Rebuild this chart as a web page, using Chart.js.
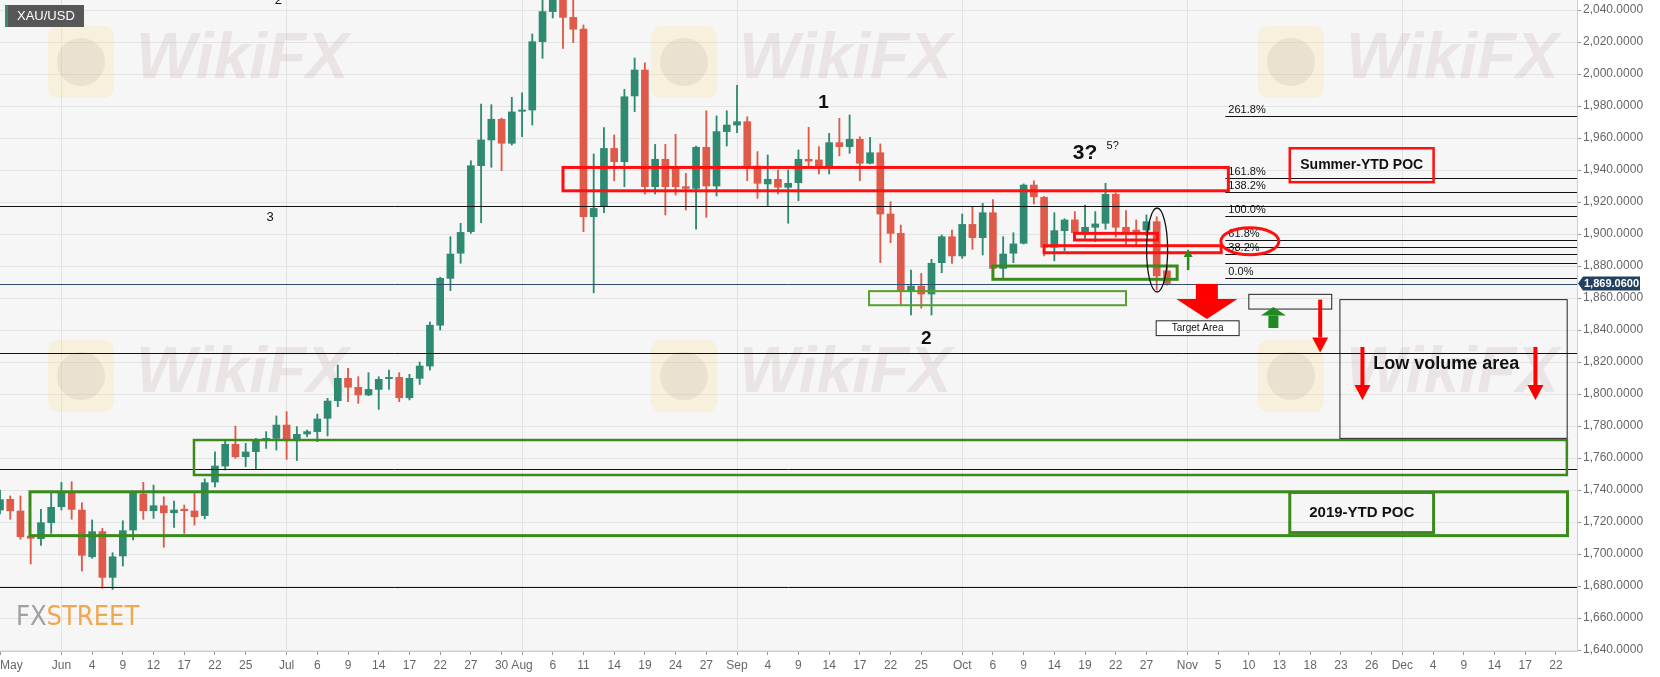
<!DOCTYPE html>
<html lang="en">
<head>
<meta charset="UTF-8">
<title>XAU/USD daily</title>
<script src="https://cdn.jsdelivr.net/npm/chart.js@4.4.1/dist/chart.umd.min.js"></script>
<style>
  html, body { margin: 0; padding: 0; background: #fff; }
  #wrap { width: 1660px; height: 677px; }
</style>
</head>
<body>
<div id="wrap"><canvas id="goldChart" width="1660" height="677"></canvas></div>
<script>
// one slot per weekday, slot 0 = 22 May 2020, last candle = 29 Oct
const opens = [1727.5,1734.2,1726.9,1711.2,1709.6,1719.6,1729.6,1738.3,1727.5,1698.3,
  1714,1685.4,1698.8,1715,1737.5,1727.1,1730.2,1725.8,1728,1726.9,
  1724,1745,1755,1768.6,1760.8,1764,1771.3,1772.3,1780.6,1770.8,
  1775,1776.5,1784.8,1795.8,1809.8,1804.2,1799.4,1802.9,1809.6,1810.4,
  1797.7,1809.8,1817.5,1843,1872.3,1888,1901.5,1942.7,1958.8,1971.7,
  1956.7,1976.7,1977.5,2020.2,2039,2062,2035.4,2028,1910.8,1917.1,
  1953.5,1945.2,1986.3,2002.5,1929.6,1946.7,1940.4,1929.6,1928.5,1954.2,
  1930,1964,1968.1,1970.2,1942.5,1931.3,1934.2,1929.2,1932.1,1946.7,
  1946.3,1942.1,1957.1,1954.6,1959.2,1944.2,1950.8,1912.5,1900.4,1864.6,
  1867.5,1862.5,1882.1,1898.3,1886.3,1906,1897.7,1913.3,1878.5,1888,
  1894.2,1930.6,1922.9,1891.7,1902.1,1908.8,1900.8,1904.2,1906.7,1924.8,
  1904.2,1902.5,1902.5,1907.7,1877];
const highs = [1740,1736.3,1736.3,1712,1727.9,1737.9,1744.8,1745.2,1732.1,1721.3,
  1716,1700.8,1720.8,1739.4,1744.8,1743.1,1735.8,1733.1,1730.6,1737.9,
  1747,1763.8,1770.6,1780,1769.2,1772.3,1776.5,1786.3,1789,1779.6,
  1777.5,1787.5,1797.3,1818.1,1816,1810.8,1813.3,1810.8,1815,1813.3,
  1812.3,1820,1845,1873,1898.3,1906.7,1945.8,1981.2,1980.8,1972.5,
  1985.4,1988.3,2025,2055,2075,2070,2050,2030.6,1950,1966.5,
  1961.9,1990.4,2010,2007,1956,1956,1962.3,1937.9,1955,1977,
  1973.8,1977,1993,1973.3,1951.5,1949.4,1940,1940,1952.5,1966.7,
  1954.6,1962.9,1972.3,1974.4,1960.8,1960.4,1956.3,1920.2,1905.6,1877.5,
  1875.4,1884.2,1899.4,1902.5,1912.5,1917.1,1919.2,1921.5,1898.3,1900.8,
  1931.3,1933.3,1923.5,1913.3,1909.5,1914,1918.1,1914,1931.7,1925.8,
  1914.6,1908.8,1911.9,1910.8,1879.6];
const lows = [1725,1721.7,1709.2,1693.8,1705.4,1712.9,1727.5,1721.7,1689.4,1697.3,
  1678.6,1677.9,1692.5,1708.8,1721.7,1722.3,1704.2,1716.7,1712.9,1718.1,
  1722,1742,1752.5,1759.8,1754.6,1752.9,1766,1765,1759.2,1758.4,
  1773.3,1770.2,1773.8,1792.1,1795.2,1794.2,1799,1790.4,1802.9,1795.2,
  1796.3,1806,1815,1840,1864.6,1881.7,1900.4,1907.1,1941.7,1939.6,
  1955.6,1960.8,1968.1,2009.8,2035,2016,2019.6,1901.5,1863.3,1913.3,
  1933.3,1929.6,1976.5,1925,1925,1911.9,1924.4,1915,1903.1,1910.4,
  1923.8,1955,1963.3,1933.3,1922.3,1917.1,1925,1906.7,1920.8,1942.1,
  1937.5,1937.5,1948.8,1950.4,1933.3,1943.8,1882.1,1894.6,1855.6,1849.4,
  1853.6,1849.4,1875.8,1881.7,1884.8,1890.4,1886.9,1872.7,1872.7,1882.1,
  1893.8,1918.8,1886.3,1883.3,1889.6,1897.3,1897.3,1895.2,1903,1898,
  1892.1,1892.1,1899,1865,1868.1];
const closes = [1734,1727,1710.8,1709.8,1719.6,1729.2,1738.3,1727.9,1699.2,1714,
  1685.4,1698.3,1714.6,1737.9,1727.1,1730.2,1725.8,1727.5,1727.1,1723.3,
  1744.6,1755,1768.6,1760.8,1763.8,1771.3,1772.3,1780.6,1771.3,1774.8,
  1776.5,1784.4,1795.6,1809.8,1804.2,1799.4,1802.9,1809.2,1810.4,1797.7,
  1809.8,1817.5,1843,1872.3,1887.5,1901,1942.7,1958.8,1971.7,1956.7,
  1976.3,1977.5,2020.2,2039,2062,2035.4,2028,1910.8,1916,1953.5,
  1945.2,1985.8,2002.5,1929.6,1946.7,1929.6,1929.6,1928.5,1954.2,1930,
  1964,1968.1,1970.2,1942.5,1931.7,1934.2,1929.2,1931.7,1946.7,1945.6,
  1941.7,1957.1,1954.6,1959.2,1944.2,1950.8,1912.5,1900.4,1864.6,1867.5,
  1862.5,1881.7,1898.3,1886.3,1906,1897.7,1913.3,1878.5,1887.5,1893.8,
  1930.6,1923.3,1891.7,1902.1,1908.8,1900.8,1904.2,1906.3,1924.8,1904.2,
  1901.5,1901.5,1907.7,1873.8,1869.06];

// x axis: slot number and its label
const tickDays = [0,6,9,12,15,18,21,24,28,31,34,37,40,43,46,49,51,54,57,60,63,66,69,
  72,75,78,81,84,87,90,94,97,100,103,106,109,112,116,119,122,125,128,131,134,
  137,140,143,146,149,152,154.06];
const tickNames = ['May','Jun','4','9','12','17','22','25','Jul','6','9','14','17','22','27','30',
  'Aug','6','11','14','19','24','27','Sep','4','9','14','17','22','25','Oct','6','9','14',
  '19','22','27','Nov','5','10','13','18','23','26','Dec','4','9','14','17','22',''];
const monthNames = ['Jun','Jul','Aug','Sep','Oct','Nov','Dec'];
const priceTicks = [1640,1660,1680,1700,1720,1740,1760,1780,1800,1820,1840,1860,1880,
  1900,1920,1940,1960,1980,2000,2020,2040];
const lastPrice = 1869.06;

// drawn studies (slot / price coordinates)
const levelLines = [1917.5, 1825.8, 1753.3, 1679.6];
const fibStart = 119.7;
const fibLines = [1973.95, 1935.2, 1926.05, 1911.25, 1896.4, 1891.9, 1887.3, 1881.6, 1872.5];
const fibTags = [['261.8%',1973.95],['161.8%',1935.2],['138.2%',1926.05],['100.0%',1911.25],
  ['61.8%',1896.4],['38.2%',1887.3],['0.0%',1872.5]];

const UP = '#2e8b72', DOWN = '#df5a48';
const RED = '#ff1010', GREEN = '#3b8a1c';
const FONT = 'Arial, "Liberation Sans", sans-serif';

const bodies = opens.map((o, i) => ({ x: i, y: [o, closes[i]] }));
const wicks = highs.map((h, i) => ({ x: i, y: [lows[i], h] }));
const candleColor = ctx => closes[ctx.dataIndex] >= opens[ctx.dataIndex] ? UP : DOWN;

function fmtPrice(v) {
  return v.toLocaleString('en-US', { minimumFractionDigits: 4, maximumFractionDigits: 4 });
}

function arrow(ctx, x, y0, y1, shaftW, headW, headH, color) {
  const dir = y1 > y0 ? 1 : -1;
  const yb = y1 - dir * headH;
  ctx.fillStyle = color;
  ctx.fillRect(x - shaftW / 2, Math.min(y0, yb), shaftW, Math.abs(yb - y0));
  ctx.beginPath();
  ctx.moveTo(x - headW / 2, yb);
  ctx.lineTo(x + headW / 2, yb);
  ctx.lineTo(x, y1);
  ctx.closePath();
  ctx.fill();
}

const backdrop = {
  id: 'backdrop',
  beforeDraw(chart) {
    const { ctx, chartArea: a } = chart;
    ctx.save();
    ctx.fillStyle = '#ffffff';
    ctx.fillRect(0, 0, chart.width, chart.height);
    ctx.fillStyle = '#f6f6f6';
    ctx.fillRect(a.left, a.top, a.right - a.left, a.bottom - a.top);
    ctx.restore();
  },
  beforeDatasetsDraw(chart) {
    // faint WikiFX watermark
    const { ctx, chartArea: a } = chart;
    ctx.save();
    ctx.beginPath();
    ctx.rect(a.left, a.top, a.right - a.left, a.bottom - a.top);
    ctx.clip();
    [[48, 26], [651, 26], [1258, 26], [48, 340], [651, 340], [1258, 340]].forEach(([x, y]) => {
      ctx.fillStyle = 'rgba(246,224,160,0.3)';
      ctx.beginPath();
      ctx.roundRect(x, y, 66, 72, 10);
      ctx.fill();
      ctx.fillStyle = 'rgba(150,130,130,0.13)';
      ctx.beginPath();
      ctx.arc(x + 33, y + 36, 24, 0, Math.PI * 2);
      ctx.fill();
      ctx.fillStyle = 'rgba(170,130,130,0.15)';
      ctx.font = 'bold italic 64px ' + FONT;
      ctx.textBaseline = 'middle';
      ctx.fillText('WikiFX', x + 88, y + 34);
    });
    ctx.restore();
  },
  afterDatasetsDraw(chart) {
    const { ctx, chartArea: a } = chart;
    const xs = chart.scales.x, ys = chart.scales.y;
    const X = v => xs.getPixelForValue(v);
    const Y = v => ys.getPixelForValue(v);
    const box = (x0, x1, v0, v1, color, lw) => {
      ctx.strokeStyle = color;
      ctx.lineWidth = lw;
      ctx.strokeRect(X(x0), Y(v0), X(x1) - X(x0), Y(v1) - Y(v0));
    };
    const hline = (x0, x1, v) => {
      const y = Math.round(Y(v)) + 0.5;
      ctx.beginPath();
      ctx.moveTo(x0, y);
      ctx.lineTo(x1, y);
      ctx.stroke();
    };
    const text = (s, x, v, font, align, color) => {
      ctx.font = font + ' ' + FONT;
      ctx.fillStyle = color || '#111';
      ctx.textAlign = align || 'center';
      ctx.textBaseline = 'middle';
      ctx.fillText(s, X(x), Y(v));
    };

    ctx.save();
    ctx.beginPath();
    ctx.rect(a.left, a.top, a.right - a.left, a.bottom - a.top);
    ctx.clip();

    // horizontal levels
    ctx.strokeStyle = '#111';
    ctx.lineWidth = 1;
    levelLines.forEach(v => hline(a.left, a.right, v));
    fibLines.forEach(v => hline(X(fibStart), a.right, v));
    ctx.strokeStyle = '#2f4c70';
    hline(a.left, a.right, lastPrice);

    fibTags.forEach(([s, v]) => {
      ctx.font = '11px ' + FONT;
      ctx.fillStyle = '#111';
      ctx.textAlign = 'left';
      ctx.textBaseline = 'alphabetic';
      ctx.fillText(s, X(120), Y(v) - 3);
    });

    // red zones
    box(55, 120, 1941.6, 1927, RED, 3);
    box(104.97, 113.07, 1900.4, 1896.25, RED, 3);
    box(102, 119.3, 1892.7, 1888.3, RED, 3);
    box(126, 140.05, 1953.6, 1932.4, RED, 2.5);

    // green zones
    box(18.95, 153.07, 1771.25, 1749.4, GREEN, 2.5);
    box(2.93, 153.13, 1738.9, 1711.5, GREEN, 3);
    box(126, 140.05, 1738.5, 1713.4, GREEN, 3);
    box(84.9, 110, 1864.3, 1855.5, '#56a02e', 2);
    box(97, 115, 1880, 1871.7, GREEN, 3);

    // thin black boxes
    box(122, 130.1, 1862.3, 1853.1, '#222', 1);
    box(130.9, 153.1, 1859, 1772.3, '#222', 1);
    ctx.fillStyle = '#ffffff';
    ctx.fillRect(X(112.95), Y(1845.75), X(121.05) - X(112.95), Y(1836.5) - Y(1845.75));
    box(112.95, 121.05, 1845.75, 1836.5, '#222', 1);

    // ellipses
    ctx.lineWidth = 3;
    ctx.strokeStyle = RED;
    ctx.beginPath();
    ctx.ellipse(X(122.1), Y(1895.4), 29, 13.5, 0, 0, Math.PI * 2);
    ctx.stroke();
    ctx.lineWidth = 1.3;
    ctx.strokeStyle = '#111';
    ctx.beginPath();
    ctx.ellipse(X(113.04), Y(1890), 10.5, 42, 0, 0, Math.PI * 2);
    ctx.stroke();

    // arrows
    arrow(ctx, X(117.9), Y(1868.8), Y(1846.9), 22, 61, 20, '#ff0000');
    arrow(ctx, X(116.07), Y(1877.5), Y(1890.6), 2.5, 9, 8, '#2a8a1a');
    arrow(ctx, X(124.4), Y(1841.25), Y(1854.4), 10, 25, 8.5, '#1f8a1f');
    arrow(ctx, X(128.97), Y(1859), Y(1826), 4, 16, 15, '#ff0000');
    arrow(ctx, X(133.1), Y(1829.4), Y(1796.25), 4, 16, 15, '#ff0000');
    arrow(ctx, X(150), Y(1829.4), Y(1796.25), 4, 16, 15, '#ff0000');

    // labels
    text('1', 80.46, 1982.1, 'bold 19px');
    text('2', 90.5, 1834.5, 'bold 19px');
    text('3?', 106, 1950.3, 'bold 21px');
    text('5?', 108.7, 1955, '11px');
    text('3', 26.4, 1910.6, '13px');
    text('2', 27.2, 2045.9, '13px');
    text('Summer-YTD POC', 133.03, 1943, 'bold 14px');
    text('2019-YTD POC', 133.03, 1725.95, 'bold 15px');
    text('Low volume area', 134.15, 1818.75, 'bold 18px', 'left');
    text('Target Area', 117, 1841.1, '10px');

    // FXStreet mark
    ctx.textAlign = 'left';
    ctx.textBaseline = 'middle';
    ctx.font = '27px "DejaVu Sans Condensed", ' + FONT;
    ctx.fillStyle = '#a0a0a0';
    ctx.fillText('FX', 16, 618);
    const fxw = ctx.measureText('FX').width;
    ctx.fillStyle = '#f0a850';
    ctx.fillText('STREET', 16 + fxw, 618);
    ctx.restore();

    // symbol tag
    ctx.save();
    ctx.fillStyle = '#575757';
    ctx.fillRect(5, 5, 79, 22);
    ctx.fillStyle = '#3a8a6c';
    ctx.fillRect(5, 5, 3, 22);
    ctx.fillStyle = '#ffffff';
    ctx.font = '13px ' + FONT;
    ctx.textBaseline = 'middle';
    ctx.fillText('XAU/USD', 17, 16.5);

    // last price tag on the axis
    const py = Y(lastPrice);
    ctx.fillStyle = '#22405f';
    ctx.beginPath();
    ctx.moveTo(a.right + 1, py);
    ctx.lineTo(a.right + 6, py - 7);
    ctx.lineTo(a.right + 63, py - 7);
    ctx.lineTo(a.right + 63, py + 7);
    ctx.lineTo(a.right + 6, py + 7);
    ctx.closePath();
    ctx.fill();
    ctx.fillStyle = '#ffffff';
    ctx.font = 'bold 11px ' + FONT;
    ctx.textAlign = 'left';
    ctx.fillText(fmtPrice(lastPrice), a.right + 7, py + 0.5);
    ctx.restore();
  }
};

const labelOf = {};
tickDays.forEach((d, i) => { labelOf[d] = tickNames[i]; });

new Chart(document.getElementById('goldChart'), {
  type: 'bar',
  data: {
    datasets: [
      { label: 'body', data: bodies, backgroundColor: candleColor, barThickness: 7,
        grouped: false, minBarLength: 1 },
      { label: 'wick', data: wicks, backgroundColor: candleColor, barThickness: 1.2,
        grouped: false }
    ]
  },
  options: {
    responsive: false,
    animation: false,
    events: [],
    layout: { padding: 0 },
    plugins: { legend: { display: false }, tooltip: { enabled: false } },
    scales: {
      x: {
        type: 'linear',
        min: 0,
        max: 154.06,
        offset: false,
        afterBuildTicks: s => { s.ticks = tickDays.map(v => ({ value: v })); },
        afterFit: s => { s.height = 26; s.paddingLeft = 0; s.paddingRight = 0; },
        ticks: {
          autoSkip: false,
          maxRotation: 0,
          align: 'inner',
          padding: 3,
          color: '#666',
          font: { size: 12, family: FONT },
          callback: v => labelOf[v] !== undefined ? labelOf[v] : ''
        },
        grid: {
          offset: false,
          tickLength: 4,
          color: c => (c.tick && monthNames.includes(labelOf[c.tick.value])) ? '#e2e2e2' : 'rgba(0,0,0,0)',
          tickColor: c => (c.tick && labelOf[c.tick.value]) ? '#999' : 'rgba(0,0,0,0)'
        },
        border: { color: '#cfcfcf' }
      },
      y: {
        position: 'right',
        min: 1639.4,
        max: 2046.25,
        afterBuildTicks: s => { s.ticks = priceTicks.map(v => ({ value: v })); },
        afterFit: s => { s.width = 83; s.paddingTop = 0; s.paddingBottom = 0; },
        ticks: {
          padding: 2,
          color: '#666',
          font: { size: 12, family: FONT },
          callback: v => fmtPrice(v)
        },
        grid: { color: '#e4e4e4', tickLength: 4, tickColor: '#999' },
        border: { color: '#cfcfcf' }
      }
    }
  },
  plugins: [backdrop]
});
</script>
</body>
</html>
